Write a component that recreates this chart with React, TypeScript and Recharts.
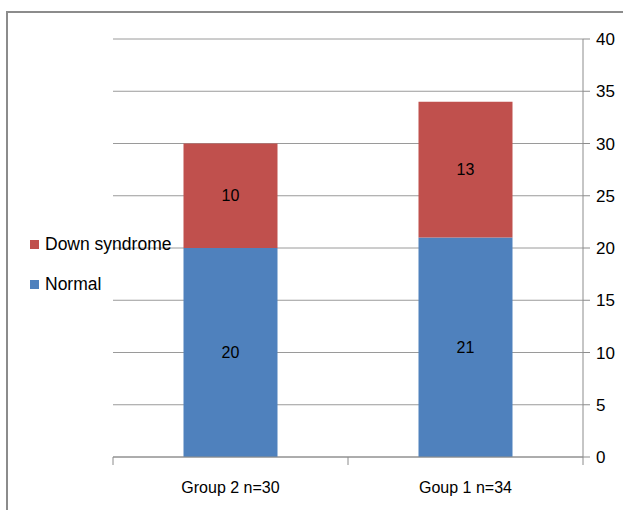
import React from "react";
import { BarChart, Bar, XAxis, YAxis, CartesianGrid, LabelList } from "recharts";

const categories = ["Group 2 n=30", "Goup 1 n=34"];
const normalValues = [20, 21];
const downValues = [10, 13];
const yTicks = [0, 5, 10, 15, 20, 25, 30, 35, 40];

const data = categories.map((name, i) => ({
  name,
  normal: normalValues[i],
  down: downValues[i],
}));

const FONT = "'Liberation Sans', Arial, sans-serif";
const AXIS = "#8c8c8c";

const XTick = (props: any) => {
  const { x, y, payload, index, visibleTicksCount, width } = props;
  const band = width && visibleTicksCount ? width / visibleTicksCount : 235.5;
  const half = band / 2;
  const top = y - 8;
  return (
    <g>
      <line x1={x - half} x2={x - half} y1={top} y2={top + 8} stroke={AXIS} />
      {index === visibleTicksCount - 1 && (
        <line x1={x + half} x2={x + half} y1={top} y2={top + 8} stroke={AXIS} />
      )}
      <text x={x} y={top + 36} textAnchor="middle" fontSize={16} fill="#000" fontFamily={FONT}>
        {payload.value}
      </text>
    </g>
  );
};

export default function App() {
  return (
    <div style={{ position: "absolute", left: 0, top: 0, width: 623, height: 510, background: "#fff", overflow: "hidden" }}>
      <div
        style={{
          position: "absolute",
          left: 6,
          top: 11,
          width: 700,
          height: 600,
          borderLeft: "2px solid #8c8c8c",
          borderTop: "2px solid #8c8c8c",
        }}
      />
      <div style={{ position: "absolute", left: 0, top: 0 }}>
        <BarChart
          width={623}
          height={510}
          data={data}
          margin={{ top: 39, right: 0, left: 113, bottom: 13 }}
          barCategoryGap="30%"
        >
          <CartesianGrid vertical={false} stroke="#9a9a9a" />
          <XAxis
            dataKey="name"
            height={40}
            axisLine={{ stroke: AXIS }}
            tickLine={false}
            tick={<XTick />}
            interval={0}
          />
          <YAxis
            orientation="right"
            width={40}
            domain={[0, 40]}
            ticks={yTicks}
            axisLine={{ stroke: AXIS }}
            tickLine={{ stroke: AXIS }}
            tickSize={7}
            tick={{ fontSize: 17, fill: "#000", fontFamily: FONT }}
            tickMargin={6}
            interval={0}
          />
          <Bar dataKey="normal" stackId="a" fill="#4F81BD" isAnimationActive={false}>
            <LabelList dataKey="normal" position="center" fill="#000" fontSize={16} fontFamily={FONT} />
          </Bar>
          <Bar dataKey="down" stackId="a" fill="#C0504D" isAnimationActive={false}>
            <LabelList dataKey="down" position="center" fill="#000" fontSize={16} fontFamily={FONT} />
          </Bar>
        </BarChart>
      </div>
      <div style={{ position: "absolute", left: 30, top: 233, fontFamily: FONT, fontSize: 17.5, color: "#000" }}>
        <div style={{ display: "flex", alignItems: "center", height: 22 }}>
          <span style={{ display: "inline-block", width: 9, height: 9, background: "#C0504D", marginRight: 6 }} />
          Down syndrome
        </div>
        <div style={{ display: "flex", alignItems: "center", height: 22, marginTop: 18 }}>
          <span style={{ display: "inline-block", width: 9, height: 9, background: "#4F81BD", marginRight: 6 }} />
          Normal
        </div>
      </div>
    </div>
  );
}
